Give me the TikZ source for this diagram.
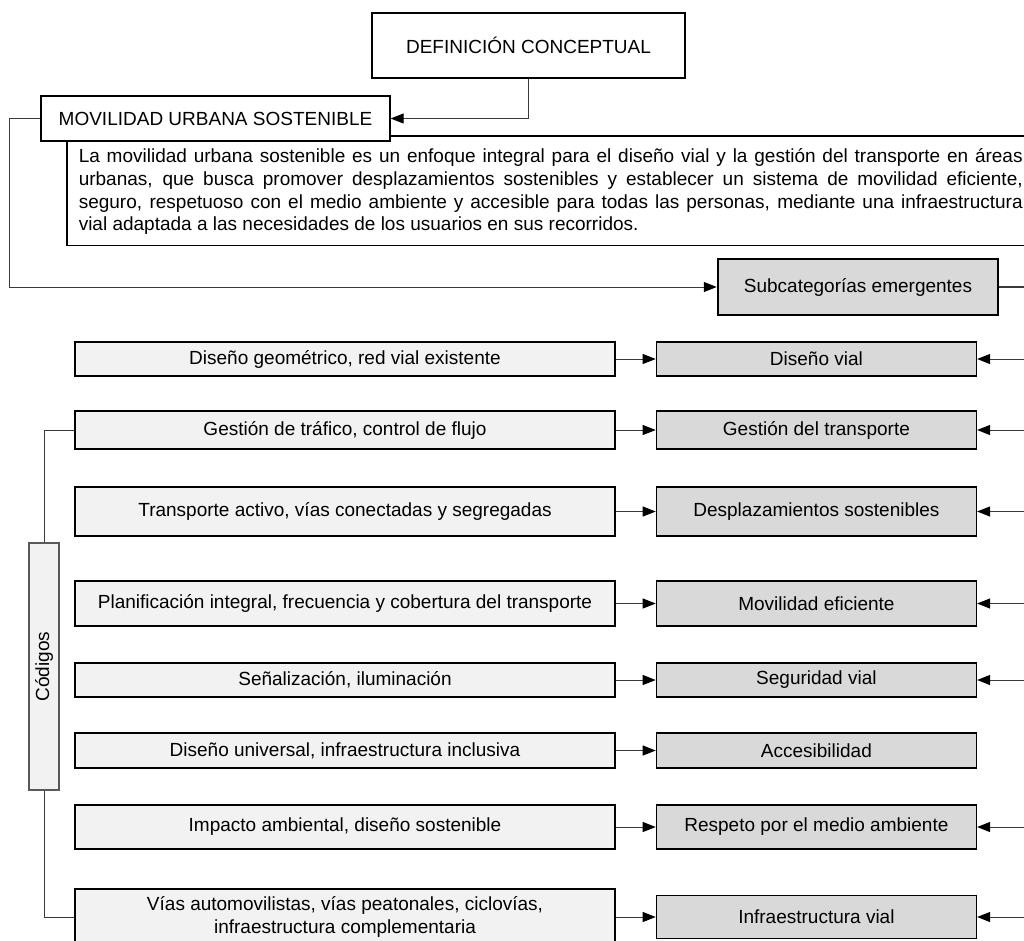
\documentclass[tikz,border=0pt]{standalone}
\usepackage{fontspec}
\setmainfont{Liberation Sans}
\usepackage{xcolor}
\usepackage{tikz}
\usetikzlibrary{arrows.meta,positioning}
\definecolor{codefill}{HTML}{F2F2F2}
\definecolor{subfill}{HTML}{D9D9D9}
\definecolor{linkgray}{HTML}{3A3A3A}
\definecolor{codgray}{HTML}{595959}

\begin{document}
\begin{tikzpicture}[x=1pt, y=-1pt,
    every node/.style={font=\fontsize{19}{22.7}\selectfont},
    titlebox/.style={draw, fill=white, line width=1.3pt, inner sep=0pt, align=center},
    descbox/.style={draw, line width=1.5pt, text width=944pt, inner xsep=12pt, inner ysep=11pt, align=justify},
    codebox/.style={draw, fill=codefill, line width=1.4pt, minimum width=540pt, inner sep=0pt, align=center},
    subbox/.style={draw, fill=subfill, line width=1.4pt, minimum width=320pt, inner sep=0pt, align=center},
    arrow/.style={-{Triangle[length=13pt, width=10pt, color=black]}, line width=1pt, draw=linkgray},
    link/.style={line width=1pt, draw=linkgray}
]
\useasboundingbox (0,0) rectangle (1024,940);
\clip (0,0) rectangle (1024,940);

% Definition
\node[titlebox, minimum width=313pt, minimum height=65pt] (def) at (528.5,45.5) {DEFINICIÓN CONCEPTUAL};
\node[descbox, anchor=north west] (desc) at (66,135) {\hyphenpenalty=10000\strut La movilidad urbana sostenible es un enfoque integral para el diseño vial y la gestión del transporte en áreas\linebreak urbanas, que busca promover desplazamientos sostenibles y establecer un sistema de movilidad eficiente,\linebreak seguro, respetuoso con el medio ambiente y accesible para todas las personas, mediante una infraestructura\linebreak vial adaptada a las necesidades de los usuarios en sus recorridos.};
\node[titlebox, minimum width=349pt, minimum height=45pt] (mus) at (215.5,118.5) {MOVILIDAD URBANA SOSTENIBLE};
\node[subbox, line width=2.5pt, minimum width=280pt, minimum height=56pt] (subcat) at (858,287) {Subcategorías emergentes};

% Codes
\node[codebox, minimum height=34pt] (cod1) at (345,359) {Diseño geométrico, red vial existente};
\node[codebox, minimum height=38pt] (cod2) at (345,430) {Gestión de tráfico, control de flujo};
\node[codebox, minimum height=49pt] (cod3) at (345,511.5) {Transporte activo, vías conectadas y segregadas};
\node[codebox, minimum height=45pt] (cod4) at (345,603.5) {Planificación integral, frecuencia y cobertura del transporte};
\node[codebox, minimum height=34pt] (cod5) at (345,680) {Señalización, iluminación};
\node[codebox, minimum height=35pt] (cod6) at (345,750.5) {Diseño universal, infraestructura inclusiva};
\node[codebox, minimum height=44pt] (cod7) at (345,827) {Impacto ambiental, diseño sostenible};
\node[codebox, minimum height=56pt] (cod8) at (345,917) {Vías automovilistas, vías peatonales, ciclovías,\\infraestructura complementaria};

\node[draw=codgray, fill=codefill, line width=2.8pt, rotate=90, minimum width=247pt, minimum height=30pt, inner sep=0pt] (codigos) at (44,666.5) {Códigos};

% Subcategories
\node[subbox, minimum height=34pt, right=40pt of cod1] (sub1) {Diseño vial};
\node[subbox, minimum height=38pt, right=40pt of cod2] (sub2) {Gestión del transporte};
\node[subbox, minimum height=49pt, right=40pt of cod3] (sub3) {Desplazamientos sostenibles};
\node[subbox, minimum height=45pt, right=40pt of cod4] (sub4) {Movilidad eficiente};
\node[subbox, minimum height=34pt, right=40pt of cod5] (sub5) {Seguridad vial};
\node[subbox, minimum height=35pt, right=40pt of cod6] (sub6) {Accesibilidad};
\node[subbox, minimum height=44pt, right=40pt of cod7] (sub7) {Respeto por el medio ambiente};
\node[subbox, minimum height=43pt, right=40pt of cod8] (sub8) {Infraestructura vial};

\coordinate (bus) at (1040,287);

% Arrows
\draw[arrow] (def) |- (mus);
\draw[arrow] (mus.west) -- ++(-31,0) |- (subcat);
\draw[link, line width=2pt] (subcat.east) -- (bus);

\draw[link] (cod2.west) -| (codigos);
\draw[link] (cod8.west) -| (codigos);

\draw[arrow] (cod1) -- (sub1);
\draw[arrow] (cod2) -- (sub2);
\draw[arrow] (cod3) -- (sub3);
\draw[arrow] (cod4) -- (sub4);
\draw[arrow] (cod5) -- (sub5);
\draw[arrow] (cod6) -- (sub6);
\draw[arrow] (cod7) -- (sub7);
\draw[arrow] (cod8) -- (sub8);

\draw[arrow] (bus |- sub1) -- (sub1);
\draw[arrow] (bus |- sub2) -- (sub2);
\draw[arrow] (bus |- sub3) -- (sub3);
\draw[arrow] (bus |- sub4) -- (sub4);
\draw[arrow] (bus |- sub5) -- (sub5);
\draw[arrow] (bus |- sub7) -- (sub7);
\draw[arrow] (bus |- sub8) -- (sub8);

\end{tikzpicture}
\end{document}
